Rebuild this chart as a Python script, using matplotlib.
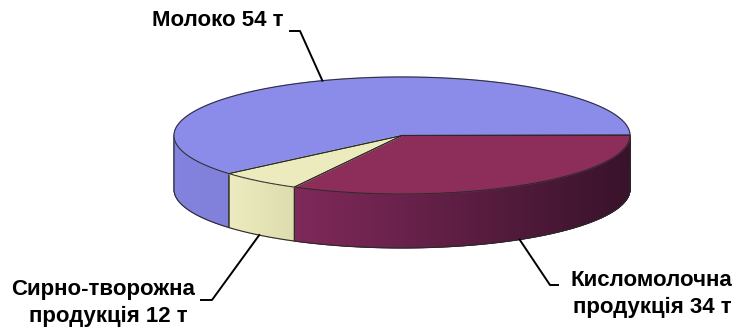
import numpy as np
import matplotlib
matplotlib.use("Agg")
import matplotlib.pyplot as plt
from matplotlib.collections import PolyCollection
from matplotlib.colors import to_rgb

# ---------------- data ----------------
categories = ["Молоко", "Кисломолочна продукція", "Сирно-творожна продукція"]
tonnes = [54, 34, 12]
# share of the circle each slice occupies as drawn in the reference (%)
shares = [61.2, 32.9, 5.9]
label_lines = [["Молоко 54 т"],
               ["Кисломолочна", "продукція 34 т"],
               ["Сирно-творожна", "продукція 12 т"]]

# ---------------- style ----------------
top_colors = ["#8B8BEA", "#8C2D5A", "#EBEBBE"]
side_left = ["#8383DF", "#80295A", "#ECECC0"]
side_right = ["#8080DA", "#38122A", "#DCDCAE"]
edge = "#2a2a2a"

W, H = 736, 335
fig = plt.figure(figsize=(W / 100, H / 100), dpi=100)
ax = fig.add_axes([0, 0, 1, 1])
ax.set_xlim(0, W)
ax.set_ylim(H, 0)
ax.axis("off")

cx, cy, rx, ry, depth = 402, 135.5, 228, 58.5, 54
start = -139.4  # math-angle of first slice start, slices go clockwise


def pts(t, dz=0.0):
    t = np.radians(np.asarray(t, dtype=float))
    return cx + rx * np.cos(t), cy - ry * np.sin(t) + dz


# slice angle ranges (clockwise => decreasing angle)
bounds = [start]
for s in shares:
    bounds.append(bounds[-1] - 360.0 * s / 100.0)

# ---- side walls (front half only) ----
for i in range(len(shares)):
    hi, lo = bounds[i], bounds[i + 1]
    t = np.linspace(lo, hi, 600)
    front = np.sin(np.radians(t)) < 0
    if not front.any():
        continue
    idx = np.where(front)[0]
    runs = np.split(idx, np.where(np.diff(idx) != 1)[0] + 1)
    allx = pts(t[idx])[0]
    xmin, xmax = allx.min(), allx.max()
    c0, c1 = np.array(to_rgb(side_left[i])), np.array(to_rgb(side_right[i]))
    for run in runs:
        tr = t[run]
        x, y = pts(tr)
        polys, cols = [], []
        for k in range(len(tr) - 1):
            polys.append([(x[k], y[k]), (x[k + 1], y[k + 1]),
                          (x[k + 1], y[k + 1] + depth), (x[k], y[k] + depth)])
            f = ((x[k] + x[k + 1]) / 2 - xmin) / max(xmax - xmin, 1)
            cols.append(c0 * (1 - f) + c1 * f)
        pc = PolyCollection(polys, facecolors=cols, edgecolors=cols,
                            linewidths=0.6, zorder=1)
        ax.add_collection(pc)
        ox = np.concatenate([x, x[::-1], [x[0]]])
        oy = np.concatenate([y, (y + depth)[::-1], [y[0]]])
        ax.plot(ox, oy, color=edge, lw=0.8, zorder=2)

# ---- top faces ----
for i in range(len(shares)):
    hi, lo = bounds[i], bounds[i + 1]
    t = np.linspace(hi, lo, 400)
    x, y = pts(t)
    px = np.concatenate([[cx], x, [cx]])
    py = np.concatenate([[cy], y, [cy]])
    ax.fill(px, py, color=top_colors[i], zorder=3)
    ax.plot(px, py, color=edge, lw=0.7, zorder=4)

# ---- labels with leader lines ----
fs = 16
font = dict(fontsize=fs, fontweight="bold", family=["Liberation Sans", "DejaVu Sans"],
            color="black")

mids = [(bounds[i] + bounds[i + 1]) / 2 for i in range(len(shares))]

layouts = [
    dict(lines=[(218, 20)], stub=(290, 31), elbow=(300, 31)),
    dict(lines=[(651, 280), (652, 307)], stub=(558, 285), elbow=(550, 285)),
    dict(lines=[(103, 290), (108, 316)], stub=(201, 300), elbow=(212, 300)),
]

for i, lay in enumerate(layouts):
    for (tx, ty), txt in zip(lay["lines"], label_lines[i]):
        ax.text(tx, ty, txt, ha="center", va="center", zorder=6, **font)
    front = np.sin(np.radians(mids[i])) < 0
    ax_, ay_ = pts(mids[i], depth if front else 0.0)
    ax.plot([lay["stub"][0], lay["elbow"][0], float(ax_)],
            [lay["stub"][1], lay["elbow"][1], float(ay_)],
            color="black", lw=1.4, zorder=5)

fig.savefig("out.png", dpi=100)
